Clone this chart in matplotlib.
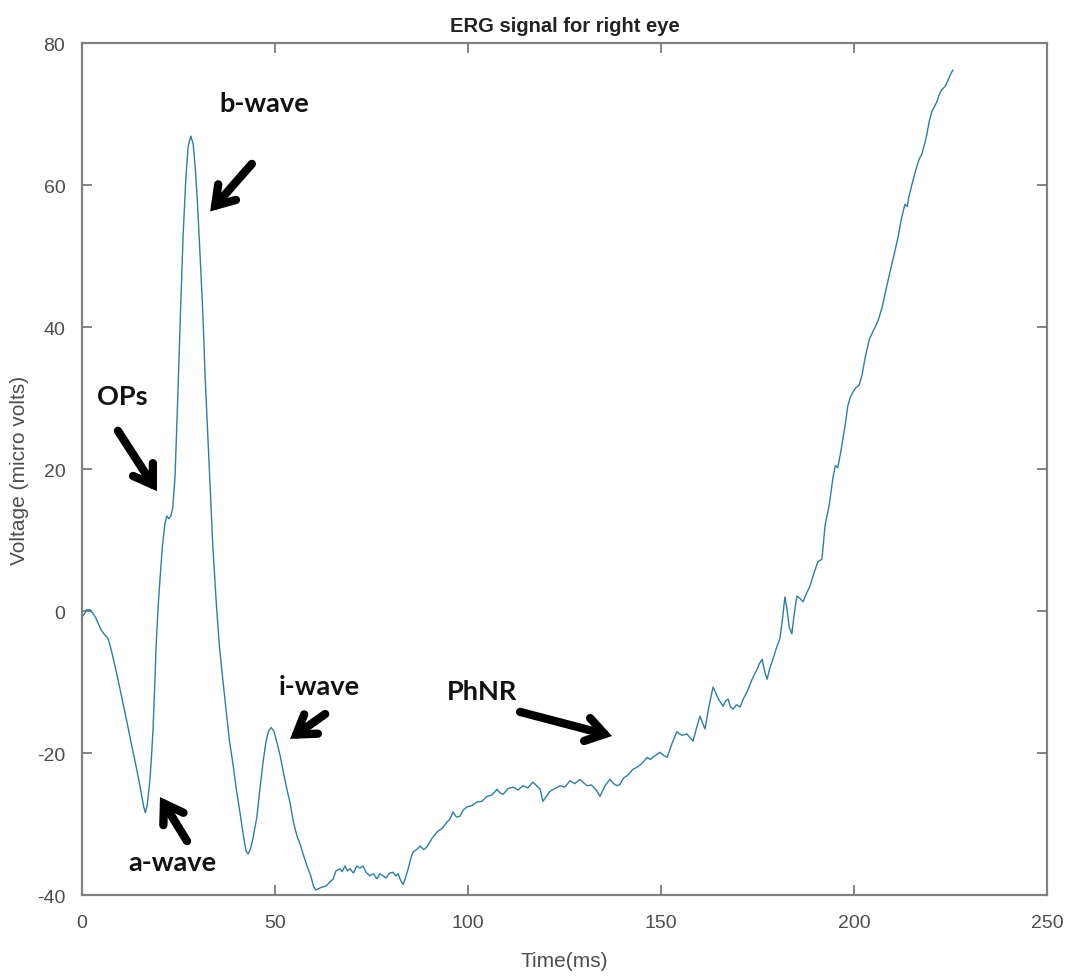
import matplotlib.pyplot as plt

plt.rcParams['axes.unicode_minus'] = False

# ERG trace (time in ms, voltage in micro volts)
time_ms = [
    0.0, 0.5, 1.2, 2.0, 2.8, 3.6, 4.9, 5.8, 6.7, 7.5, 8.4, 9.3, 10.2, 11.1, 11.9,
    12.7, 13.6, 14.5, 15.4, 16.0, 16.4, 16.9, 17.6, 18.0, 18.4, 18.8, 19.2, 19.7,
    20.2, 20.8, 21.5, 22.0, 22.5, 23.0, 23.5, 24.1, 24.8, 25.5, 26.2, 26.9, 27.5,
    28.2, 28.8, 29.4, 29.9, 30.6, 31.3, 31.9, 32.6, 33.3, 33.9, 34.8, 35.6, 36.5,
    37.4, 38.2, 39.1, 40.0, 40.9, 41.8, 42.5, 43.0, 43.6, 44.3, 45.3, 46.1, 46.9,
    47.6, 48.3, 49.0, 49.7, 50.5, 51.3, 52.2, 53.0, 53.9, 54.8, 55.7, 56.6, 57.5,
    58.3, 59.2, 60.0, 60.6, 61.3, 62.0, 62.8, 63.5, 64.3, 65.0, 65.8, 66.8, 67.4,
    68.1, 68.8, 69.4, 70.3, 71.2, 72.0, 72.8, 73.6, 74.6, 75.5, 76.4, 77.2, 78.0,
    78.8, 79.7, 80.6, 81.3, 81.9, 82.6, 83.2, 83.8, 84.5, 85.2, 85.8, 86.7, 87.6,
    88.5, 89.4, 90.7, 92.0, 93.3, 94.6, 95.3, 96.1, 97.0, 97.9, 98.8, 99.7, 101.0,
    102.3, 103.6, 104.9, 106.2, 107.5, 108.3, 109.1, 110.4, 111.7, 113.0, 114.2,
    115.5, 116.8, 117.8, 118.7, 119.4, 120.3, 121.2, 122.5, 123.8, 125.1, 126.4,
    127.7, 129.0, 130.0, 130.8, 132.0, 133.2, 134.2, 135.5, 136.8, 137.7, 138.6,
    139.4, 140.3, 141.2, 142.7, 143.8, 145.0, 146.4, 147.2, 147.9, 149.7, 150.6,
    151.6, 152.9, 154.1, 155.4, 156.7, 157.5, 158.3, 159.2, 160.1, 160.8, 161.4,
    162.4, 163.5, 164.8, 166.1, 166.8, 167.4, 168.0, 168.7, 169.6, 170.5, 171.4,
    172.3, 173.6, 174.9, 175.5, 176.2, 176.9, 177.5, 178.2, 179.0, 179.9, 180.8,
    181.5, 182.1, 182.6, 183.2, 183.9, 184.5, 185.2, 186.0, 186.8, 187.7, 188.6,
    189.6, 190.7, 191.7, 192.5, 193.6, 194.6, 195.2, 195.8, 196.6, 197.2, 197.8,
    198.4, 199.1, 199.7, 200.5, 201.3, 202.1, 203.0, 204.0, 205.0, 205.4, 206.3,
    207.3, 208.3, 209.3, 210.3, 211.4, 212.3, 213.2, 213.8, 214.2, 215.2, 216.3,
    217.0, 217.6, 218.3, 218.9, 219.5, 220.2, 220.8, 221.5, 222.2, 222.8, 223.6,
    224.3, 225.0, 225.6,
]
voltage_uv = [
    -0.8, -0.5, 0.2, 0.2, -0.3, -1.0, -2.6, -3.3, -3.8, -5.3, -7.4, -9.6, -11.9,
    -14.2, -16.3, -18.5, -20.8, -23.2, -25.8, -27.6, -28.4, -27.3, -23.7, -20.5,
    -16.6, -11.0, -4.9, 0.5, 4.5, 9.0, 12.4, 13.4, 13.0, 13.4, 14.5, 19.0, 30.0,
    42.0, 53.0, 61.0, 65.5, 66.9, 65.8, 62.0, 57.5, 50.0, 42.0, 33.0, 24.5, 16.0,
    9.0, 1.0, -5.0, -9.8, -14.3, -18.3, -21.5, -25.2, -28.3, -31.6, -33.8, -34.2,
    -33.6, -32.0, -29.0, -25.0, -21.3, -18.6, -16.9, -16.4, -16.9, -18.5, -20.3,
    -22.8, -24.9, -27.0, -29.8, -31.7, -33.0, -34.6, -35.9, -37.2, -38.8, -39.3,
    -39.1, -38.9, -38.8, -38.6, -38.1, -37.8, -36.6, -36.3, -36.7, -35.9, -36.6,
    -36.3, -36.9, -35.9, -36.2, -35.9, -36.8, -37.3, -37.0, -37.7, -37.0, -37.3,
    -37.6, -36.9, -36.8, -37.3, -37.0, -38.0, -38.5, -37.6, -36.3, -34.8, -33.9,
    -33.6, -33.1, -33.6, -33.2, -32.0, -31.1, -30.6, -29.7, -29.3, -28.3, -29.0,
    -28.9, -28.0, -27.6, -27.4, -26.9, -26.8, -26.1, -25.9, -25.1, -25.6, -25.8,
    -25.0, -24.8, -25.2, -24.6, -24.9, -24.1, -24.6, -25.1, -26.8, -26.1, -25.4,
    -25.0, -24.6, -24.8, -23.9, -24.3, -23.7, -24.2, -24.6, -24.5, -25.2, -26.1,
    -24.6, -23.7, -24.3, -24.6, -24.4, -23.5, -23.2, -22.3, -22.0, -21.5, -20.6,
    -20.9, -20.6, -19.9, -20.3, -20.6, -18.6, -17.0, -17.5, -17.3, -17.8, -18.3,
    -16.5, -14.8, -15.8, -16.6, -13.5, -10.7, -12.3, -13.4, -12.6, -12.4, -13.5,
    -13.8, -13.2, -13.5, -12.3, -11.4, -9.6, -8.2, -7.4, -6.8, -8.6, -9.6, -8.0,
    -6.8, -5.2, -3.9, -1.0, 2.0, 0.5, -2.2, -3.2, -0.5, 2.1, 1.8, 1.3, 2.5, 3.5,
    5.3, 7.0, 7.3, 12.0, 15.0, 19.0, 20.5, 20.2, 22.5, 24.5, 26.5, 28.9, 30.2,
    30.8, 31.5, 31.8, 33.3, 36.0, 38.3, 39.5, 39.9, 41.0, 42.8, 45.3, 47.7, 50.0,
    52.6, 55.3, 57.3, 57.0, 58.3, 60.5, 62.7, 63.8, 64.4, 65.8, 67.2, 69.0, 70.4,
    71.0, 71.8, 72.9, 73.5, 73.9, 74.7, 75.6, 76.2,
]

# hand drawn labels: text, text position, arrow tail, arrow head
labels = ["b-wave", "OPs", "a-wave", "i-wave", "PhNR"]
label_xy = [(47.3, 71.6), (10.4, 30.3), (23.3, -35.4), (61.4, -10.6), (103.6, -11.2)]
tail_xy = [(44.0, 63.0), (9.3, 25.4), (27.2, -32.4), (63.0, -14.5), (113.5, -14.2)]
head_xy = [(33.2, 56.3), (19.4, 16.9), (20.2, -26.2), (53.9, -18.0), (137.3, -17.6)]

fig = plt.figure(figsize=(10.68, 9.78), dpi=100)
ax = fig.add_axes([0.0768, 0.0838, 0.9035, 0.871])

ax.plot(time_ms, voltage_uv, color='#2b7fa3', lw=1.0)

ax.set_xlim(0, 250)
ax.set_ylim(-40, 80)
ax.set_xticks([0, 50, 100, 150, 200, 250])
ax.set_yticks([-40, -20, 0, 20, 40, 60, 80])

grey = '#4d4d4d'
for s in ax.spines.values():
    s.set_color('#808080')
    s.set_linewidth(1.6)
ax.tick_params(direction='in', length=7, width=1.2, color='#707070',
               labelcolor=grey, labelsize=14, top=True, right=True)
ax.tick_params(axis='x', pad=14)
ax.tick_params(axis='y', pad=12)
for lab in ax.get_xticklabels() + ax.get_yticklabels():
    lab.set_family('Liberation Sans')

ax.set_xlabel('Time(ms)', color=grey, fontsize=15, family='Liberation Sans', labelpad=14)
ax.set_ylabel('Voltage (micro volts)', color=grey, fontsize=15, family='Liberation Sans', labelpad=6)
ax.set_title('ERG signal for right eye', fontsize=14.5, fontweight='bold',
             family='Liberation Sans', color='#222222', pad=9)

for txt, pos, tail, head in zip(labels, label_xy, tail_xy, head_xy):
    ax.text(pos[0], pos[1], txt, ha='center', va='center', fontsize=19.5,
            fontweight='bold', family='Lato', color='#111111')
    ax.annotate('', xy=head, xytext=tail,
                arrowprops=dict(arrowstyle='->,head_length=1.3,head_width=0.85',
                                lw=6, color='black', shrinkA=0, shrinkB=0,
                                capstyle='round', joinstyle='miter'))

fig.savefig('out.png', dpi=100)
